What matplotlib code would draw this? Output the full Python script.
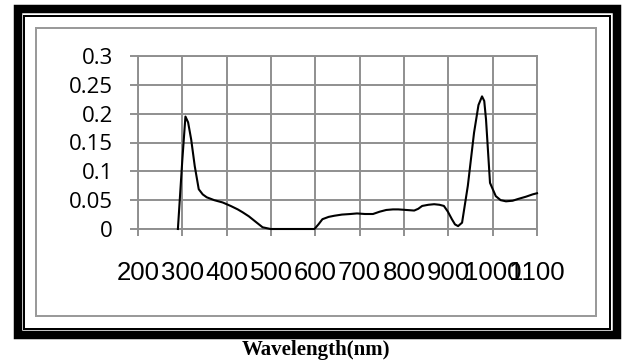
import matplotlib
matplotlib.use("Agg")
import matplotlib.pyplot as plt
from matplotlib.patches import Rectangle

# Spectrum
wavelength = [290, 300, 307, 313, 320, 328, 337, 346, 355, 372, 391, 409, 425,
              436, 450, 463, 481, 499, 520, 560, 598, 607, 616, 630, 643, 660,
              679, 694, 712, 730, 745, 760, 775, 787, 805, 823, 832, 841, 855,
              868, 880, 890, 899, 908, 915, 922, 931, 944, 958, 968, 976, 981,
              985, 994, 1007, 1018, 1030, 1045, 1057, 1075, 1090, 1100]
absorbance = [0.0, 0.120, 0.195, 0.185, 0.155, 0.109, 0.069, 0.060, 0.055,
              0.050, 0.046, 0.040, 0.034, 0.029, 0.022, 0.014, 0.003, 0.0,
              0.0, 0.0, 0.0, 0.008, 0.017, 0.021, 0.023, 0.025, 0.026, 0.027,
              0.026, 0.026, 0.030, 0.033, 0.034, 0.034, 0.033, 0.032, 0.035,
              0.040, 0.042, 0.043, 0.042, 0.040, 0.030, 0.017, 0.008, 0.005,
              0.011, 0.075, 0.167, 0.215, 0.230, 0.222, 0.190, 0.080, 0.057,
              0.050, 0.048, 0.049, 0.052, 0.056, 0.060, 0.062]

x_ticks = list(range(200, 1101, 100))
y_ticks = [0, 0.05, 0.1, 0.15, 0.2, 0.25, 0.3]
y_labels = ['0', '0.05', '0.1', '0.15', '0.2', '0.25', '0.3']

W, H = 624, 361
fig = plt.figure(figsize=(W / 100, H / 100), dpi=100)

# plot area in pixels: x 138..537, y 56..229
ax = fig.add_axes([138 / W, 1 - 229 / H, (537 - 138) / W, (229 - 56) / H])
ax.plot(wavelength, absorbance, color='black', linewidth=1.5, zorder=3, clip_on=False)
ax.set_xlim(200, 1100)
ax.set_ylim(0, 0.3)
ax.set_xticks(x_ticks)
ax.set_yticks(y_ticks)
ax.set_yticklabels(y_labels)

gray = '#8f8f8f'
ax.grid(True, color=gray, linewidth=1.4)
ax.set_axisbelow(True)
for s in ax.spines.values():
    s.set_color(gray)
    s.set_linewidth(1.4)
ax.tick_params(axis='x', direction='out', length=5, width=1.4, color=gray, pad=18)
ax.tick_params(axis='y', direction='out', length=6, width=1.4, color=gray, pad=12)
for lab in ax.get_xticklabels():
    lab.set_fontfamily('Liberation Sans')
    lab.set_fontsize(18.5)
for lab in ax.get_yticklabels():
    lab.set_fontfamily('Open Sans')
    lab.set_fontsize(16)


def frame(x0, y0, x1, y1, lw, color):
    fig.patches.append(Rectangle((x0 / W, 1 - y1 / H), (x1 - x0) / W, (y1 - y0) / H,
                                 transform=fig.transFigure, fill=False,
                                 edgecolor=color, linewidth=lw))


frame(17.5, 8.5, 616.5, 335, 6.1, 'black')
frame(24.3, 15.7, 609.8, 329.2, 1.44, 'black')
frame(36, 27.7, 595.8, 315.5, 1.44, '#9a9a9a')

fig.text(316 / W, 1 - 350 / H, 'Wavelength(nm)', ha='center', va='center',
         fontfamily='Liberation Serif', fontweight='bold', fontsize=15)

fig.savefig('out.png', dpi=100)
